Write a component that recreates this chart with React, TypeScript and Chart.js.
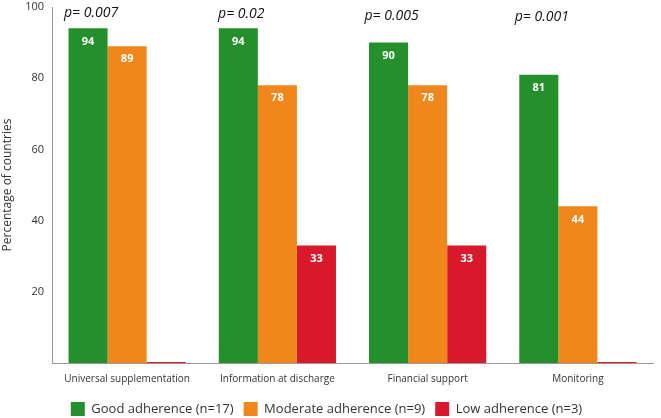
import React, { useEffect, useRef } from "react";
import { Chart, registerables } from "chart.js";

Chart.register(...registerables);

const categories = ["Universal supplementation", "Information at discharge", "Financial support", "Monitoring"];
const goodValues = [94, 94, 90, 81];
const moderateValues = [89, 78, 78, 44];
const lowValues = [0, 33, 33, 0];
const pLabels = ["p= 0.007", "p= 0.02", "p= 0.005", "p= 0.001"];
const seriesNames = ["Good adherence (n=17)", "Moderate adherence (n=9)", "Low adherence (n=3)"];
const yTicks = [0, 20, 40, 60, 80, 100];

const FONT = "'Open Sans', 'Noto Sans', sans-serif";

const valueLabelPlugin = {
  id: "valueLabels",
  afterDatasetsDraw(chart: any) {
    const ctx = chart.ctx;
    ctx.save();
    ctx.font = `bold 11px ${FONT}`;
    ctx.fillStyle = "#ffffff";
    ctx.textAlign = "center";
    ctx.textBaseline = "middle";
    chart.data.datasets.forEach((ds: any, di: number) => {
      const meta = chart.getDatasetMeta(di);
      meta.data.forEach((bar: any, i: number) => {
        const v = ds.data[i];
        if (v > 0) ctx.fillText(String(v), bar.x, bar.y + 13);
      });
    });
    // p-values above groups
    ctx.font = `italic 14px ${FONT}`;
    ctx.fillStyle = "#111111";
    const meta0 = chart.getDatasetMeta(0);
    pLabels.forEach((t, i) => {
      const bar = meta0.data[i];
      ctx.fillText(t, bar.x + 3, 13 + i * 1.3);
    });
    ctx.restore();
  },
};

export default function App() {
  const ref = useRef<HTMLCanvasElement>(null);
  useEffect(() => {
    if (!ref.current) return;
    const chart = new Chart(ref.current, {
      type: "bar",
      data: {
        labels: categories,
        datasets: [
          { label: seriesNames[0], data: goodValues, backgroundColor: "#23902B", minBarLength: 1 },
          { label: seriesNames[1], data: moderateValues, backgroundColor: "#F0871D", minBarLength: 1 },
          { label: seriesNames[2], data: lowValues, backgroundColor: "#D8192B", minBarLength: 1 },
        ],
      },
      options: {
        animation: false,
        responsive: false,
        maintainAspectRatio: false,
        layout: { padding: { top: 7, right: 8, left: 0, bottom: -8 } },
        datasets: { bar: { categoryPercentage: 0.78, barPercentage: 1 } },
        plugins: {
          legend: {
            position: "bottom",
            labels: {
              font: { family: FONT, size: 13 },
              color: "#333333",
              boxWidth: 14,
              boxHeight: 14,
              padding: 10,
            },
          },
          tooltip: { enabled: false },
        },
        scales: {
          x: {
            grid: { display: false },
            border: { color: "#999999" },
            afterFit: (s: any) => { s.height = 29; },
            ticks: { font: { family: FONT, size: 10 }, color: "#333333", padding: 2 },
          },
          y: {
            min: 0,
            max: 100,
            grid: { display: false },
            border: { color: "#999999" },
            afterFit: (s: any) => { s.width = 52; },
            afterBuildTicks: (s: any) => { s.ticks = yTicks.map((v) => ({ value: v })); },
            ticks: {
              font: { family: FONT, size: 11 },
              color: "#333333",
              padding: 0,
              callback: (v: any) => (v === 0 ? "" : String(v)),
            },
            title: {
              display: true,
              text: "Percentage of countries",
              font: { family: FONT, size: 12 },
              color: "#333333",
              padding: 0,
            },
          },
        },
      },
      plugins: [valueLabelPlugin],
    });
    return () => chart.destroy();
  }, []);
  return (
    <div style={{ position: "fixed", left: 0, top: 0, width: 661, height: 418, background: "#fff" }}>
      <canvas ref={ref} width={661} height={418} />
    </div>
  );
}
